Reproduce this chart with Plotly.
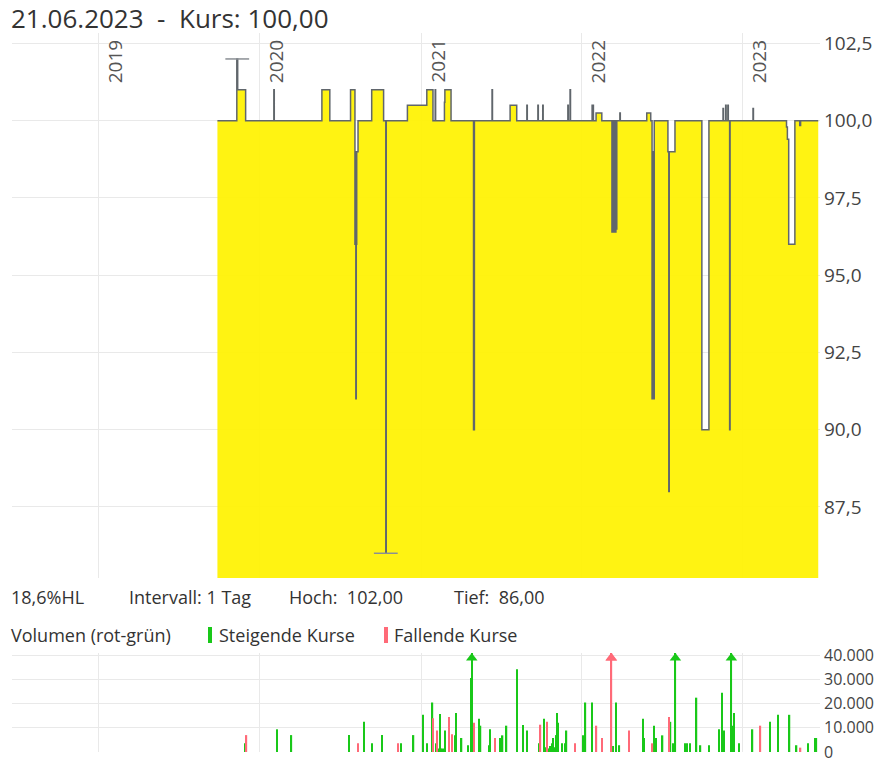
import plotly.graph_objects as go

W, H = 886, 763

# ---------------- data ----------------
price_dates = [
    "2019-09-27", "2019-11-10", "2019-11-12", "2019-11-30",
    "2020-02-02", "2020-02-03", "2020-05-21", "2020-06-08",
    "2020-07-25", "2020-08-04", "2020-08-05", "2020-08-06", "2020-08-07",
    "2020-08-08", "2020-08-11",
    "2020-09-11", "2020-10-08", "2020-10-13", "2020-10-14", "2020-12-01",
    "2021-01-14", "2021-01-28", "2021-02-02", "2021-02-03", "2021-02-23",
    "2021-02-24", "2021-03-10", "2021-04-30", "2021-05-02", "2021-06-11",
    "2021-06-12", "2021-07-22", "2021-08-06", "2021-08-29", "2021-08-30",
    "2021-09-23", "2021-09-24", "2021-10-04", "2021-10-05", "2021-11-30",
    "2021-12-01", "2021-12-05", "2021-12-06",
    "2022-01-24", "2022-01-25", "2022-01-26", "2022-01-27", "2022-02-02",
    "2022-02-15", "2022-03-10", "2022-03-11", "2022-03-12", "2022-03-13",
    "2022-03-14", "2022-03-15", "2022-03-16", "2022-03-17", "2022-03-18",
    "2022-03-19", "2022-03-20", "2022-03-21", "2022-03-28", "2022-03-29",
    "2022-05-28", "2022-06-06", "2022-06-09", "2022-06-10", "2022-06-13",
    "2022-06-14", "2022-07-15", "2022-07-17", "2022-07-18", "2022-07-31",
    "2022-09-30", "2022-10-16", "2022-11-17", "2022-11-18", "2022-11-23",
    "2022-11-24", "2022-11-28", "2022-11-29", "2022-12-02", "2022-12-03",
    "2023-01-24", "2023-01-25", "2023-04-10", "2023-04-12", "2023-04-15",
    "2023-04-29", "2023-05-10", "2023-05-12", "2023-06-21",
]
price_values = [
    100, 102, 101, 100,
    101, 100, 101, 100,
    101, 96, 99, 91, 96,
    99, 100,
    101, 100, 86, 100, 100.5,
    101, 100, 101, 100, 100.6,
    101, 100, 90, 100, 101,
    100, 100.5, 100, 100.5, 100,
    100.5, 100, 100.5, 100, 100.5,
    100, 101, 100,
    100.5, 100, 100.5, 100, 100.25,
    100, 96.4, 100, 96.5, 99.5,
    96.4, 100, 96.5, 99, 96.4,
    100, 96.5, 100, 100.25, 100,
    100.25, 100, 91, 99, 91,
    100, 99, 88, 99, 100,
    90, 100, 100.4, 100, 100.5,
    100, 100.5, 100, 90, 100,
    100.4, 100, 99.8, 99.4, 96,
    100, 99.85, 100, 100,
]

hl_dates = ["2019-11-11", "2020-10-13"]
hl_values = [102, 86]

rise_dates = [
    "2019-11-28", "2020-02-10", "2020-03-13", "2020-07-21", "2020-08-24",
    "2020-09-12", "2020-10-05", "2020-11-17", "2020-12-15", "2021-01-06",
    "2021-01-14", "2021-01-27", "2021-02-05", "2021-02-10", "2021-02-13",
    "2021-02-16", "2021-02-18", "2021-02-20", "2021-02-22", "2021-02-24",
    "2021-03-19", "2021-03-21", "2021-04-03", "2021-04-18", "2021-04-25",
    "2021-04-26", "2021-04-27", "2021-05-12", "2021-05-14", "2021-05-16",
    "2021-06-04", "2021-06-06", "2021-06-29", "2021-07-05", "2021-07-14",
    "2021-08-07", "2021-08-21", "2021-08-30", "2021-09-26", "2021-10-07",
    "2021-10-09", "2021-10-12", "2021-10-17", "2021-10-20", "2021-10-22",
    "2021-10-26", "2021-10-28", "2021-11-01", "2021-11-04", "2021-11-05",
    "2021-11-08", "2021-11-16", "2021-11-23", "2021-11-27", "2022-01-03",
    "2022-01-09", "2022-01-23", "2022-03-12", "2022-03-20", "2022-03-27",
    "2022-05-19", "2022-05-22", "2022-06-13", "2022-06-16", "2022-06-18",
    "2022-07-03", "2022-07-21", "2022-07-27", "2022-08-01", "2022-08-22",
    "2022-08-28", "2022-09-03", "2022-09-18", "2022-09-27", "2022-10-17",
    "2022-11-08", "2022-11-14", "2022-11-19", "2022-12-05", "2022-12-06",
    "2022-12-07", "2022-12-12", "2022-12-23", "2023-01-23", "2023-03-03",
    "2023-03-21", "2023-04-17", "2023-05-03", "2023-05-29", "2023-06-13",
    "2023-06-17",
]
rise_volumes = [
    3600, 9400, 7000, 7000, 12500,
    3600, 7000, 3600, 7000, 15400,
    3600, 20500, 3600, 1500, 15700,
    1500, 1200, 1500, 1000, 8900,
    6900, 16100, 5800, 2800, 30600,
    60000, 30600, 13800, 4000, 10900,
    2800, 9400, 5800, 6900, 10900,
    34300, 11200, 8900, 3600, 13800,
    1500, 2000, 1500, 2500, 1500,
    3600, 5800, 2000, 7000, 16100,
    12100, 3600, 3600, 8900, 6900,
    20500, 20500, 2500, 20500, 2800,
    13800, 5800, 10900, 5800, 5800,
    6900, 12500, 3600, 60000, 3600,
    3600, 3600, 22500, 2800, 2800,
    9400, 24500, 8900, 10900, 60000,
    10900, 16100, 3600, 9400, 12500,
    15400, 15400, 2800, 3600, 5800,
    5800,
]

fall_dates = [
    "2019-12-02", "2020-08-11", "2020-11-09", "2021-01-28", "2021-02-06",
    "2021-03-06", "2021-03-12", "2021-05-01", "2021-06-18", "2021-09-29",
    "2021-10-14", "2021-12-16", "2022-02-03", "2022-02-15", "2022-03-08",
    "2022-03-09", "2022-04-18", "2022-06-10", "2022-07-18", "2023-02-10",
    "2023-05-12",
]
fall_volumes = [
    7000, 3600, 3600, 14000, 8900,
    14500, 7400, 12100, 5800, 11300,
    12500, 3600, 10900, 5800, 60000,
    60000, 8900, 3600, 14500, 10900,
    1800,
]

year_ticks = ["2019-01-01", "2020-01-01", "2021-01-01", "2022-01-01", "2023-01-01"]
year_labels = ["2019", "2020", "2021", "2022", "2023"]
price_ticks = [87.5, 90, 92.5, 95, 97.5, 100, 102.5]
volume_ticks = [0, 10000, 20000, 30000, 40000]

x_range = ["2018-06-18", "2023-06-25"]
price_range = [85.2, 102.84]
volume_max = 41000

# ---------------- styles ----------------
FONT = "Open Sans"
GREEN = "#19c819"
RED = "#ff6a78"
GRID = "#e9e9e9"
TXT = "#333333"
LINE = "#60666c"
YELLOW = "rgba(255,242,0,0.93)"

fig = go.Figure()

fig.add_trace(go.Scatter(
    x=price_dates, y=price_values, mode="lines", line_shape="hv",
    line=dict(color=LINE, width=1.5), fill="tozeroy", fillcolor=YELLOW,
    xaxis="x", yaxis="y", hoverinfo="skip", showlegend=False,
))
fig.add_trace(go.Scatter(
    x=hl_dates, y=hl_values, mode="markers",
    marker=dict(symbol="line-ew", size=17, line=dict(color="#8a8f94", width=1.5)),
    xaxis="x", yaxis="y", hoverinfo="skip", showlegend=False,
))

bar_w = 3 * 86400000
fig.add_trace(go.Bar(
    x=rise_dates, y=rise_volumes, marker=dict(color=GREEN, line=dict(width=0)),
    width=bar_w, xaxis="x2", yaxis="y2", showlegend=False, hoverinfo="skip",
))
fig.add_trace(go.Bar(
    x=fall_dates, y=fall_volumes, marker=dict(color=RED, line=dict(width=0)),
    width=bar_w, xaxis="x2", yaxis="y2", showlegend=False, hoverinfo="skip",
))

# arrows for bars exceeding the axis
over_r = [(d, v) for d, v in zip(rise_dates, rise_volumes) if v > volume_max]
over_f = [(d, v) for d, v in zip(fall_dates, fall_volumes) if v > volume_max]
arrow_level = volume_max * 0.95
fig.add_trace(go.Scatter(
    x=[d for d, _ in over_r], y=[arrow_level] * len(over_r), mode="markers",
    marker=dict(symbol="triangle-up", size=10, color=GREEN),
    xaxis="x2", yaxis="y2", showlegend=False, hoverinfo="skip", cliponaxis=False,
))
fig.add_trace(go.Scatter(
    x=[d for d, _ in over_f], y=[arrow_level] * len(over_f), mode="markers",
    marker=dict(symbol="triangle-up", size=10, color=RED),
    xaxis="x2", yaxis="y2", showlegend=False, hoverinfo="skip", cliponaxis=False,
))

xdom = [12 / W, 820 / W]
common_x = dict(
    domain=xdom, range=x_range, type="date", tickvals=year_ticks,
    showticklabels=False, showgrid=True, gridcolor=GRID, gridwidth=1,
    zeroline=False, showline=False, ticks="", automargin=False,
)
fig.update_layout(
    width=W, height=H,
    margin=dict(l=0, r=0, t=0, b=0, pad=0, autoexpand=False),
    paper_bgcolor="white", plot_bgcolor="white",
    separators=",.",
    barmode="overlay",
    font=dict(family=FONT, color=TXT),
    xaxis=dict(**common_x, anchor="y"),
    xaxis2=dict(**common_x, anchor="y2", matches="x"),
    yaxis=dict(
        domain=[1 - 578 / H, 1 - 33 / H], range=price_range, side="right",
        tickvals=price_ticks, tickformat=".1f", showgrid=True, gridcolor=GRID,
        zeroline=False, showline=False, ticks="", ticklabelstandoff=3,
        tickfont=dict(size=19, color="#444"), anchor="x", automargin=False,
        ticklabeloverflow="allow",
    ),
    yaxis2=dict(
        domain=[1 - 752 / H, 1 - 653 / H], range=[0, volume_max], side="right",
        tickvals=volume_ticks, tickformat=",d", showgrid=True, gridcolor=GRID,
        zeroline=False, showline=False, ticks="", ticklabelstandoff=3,
        tickfont=dict(size=16, color="#444"), anchor="x2", automargin=False,
        ticklabeloverflow="allow",
    ),
)

annotations = []
for d, lab in zip(year_ticks, year_labels):
    annotations.append(dict(
        x=d, xref="x", y=1 - 38 / H, yref="paper", text=lab, textangle=-90,
        showarrow=False, xanchor="left", yanchor="top", xshift=1,
        font=dict(size=19, color="#555", family=FONT),
    ))

def txt(px, py, s, size):
    annotations.append(dict(
        x=px / W, y=1 - py / H, xref="paper", yref="paper", text=s,
        showarrow=False, xanchor="left", yanchor="middle",
        font=dict(size=size, color=TXT, family=FONT),
    ))

txt(9, 18, "21.06.2023  -  Kurs: 100,00", 26)
txt(9, 597, "18,6%HL", 18)
txt(127, 597, "Intervall: 1 Tag", 18)
txt(287, 597, "Hoch:  102,00", 18)
txt(452, 597, "Tief:  86,00", 18)
txt(9, 635, "Volumen (rot-grün)", 18)
txt(217, 635, "Steigende Kurse", 18)
txt(392, 635, "Fallende Kurse", 18)
fig.update_layout(annotations=annotations)

fig.add_shape(type="rect", xref="paper", yref="paper",
              x0=208 / W, x1=212 / W, y0=1 - 643 / H, y1=1 - 627 / H,
              fillcolor=GREEN, line=dict(width=0))
fig.add_shape(type="rect", xref="paper", yref="paper",
              x0=384 / W, x1=388 / W, y0=1 - 643 / H, y1=1 - 627 / H,
              fillcolor=RED, line=dict(width=0))

fig.write_html(
    "out.html",
    config={"displayModeBar": False},
    post_script="document.body.style.margin='0px';"
                "document.documentElement.style.overflow='hidden';",
)
